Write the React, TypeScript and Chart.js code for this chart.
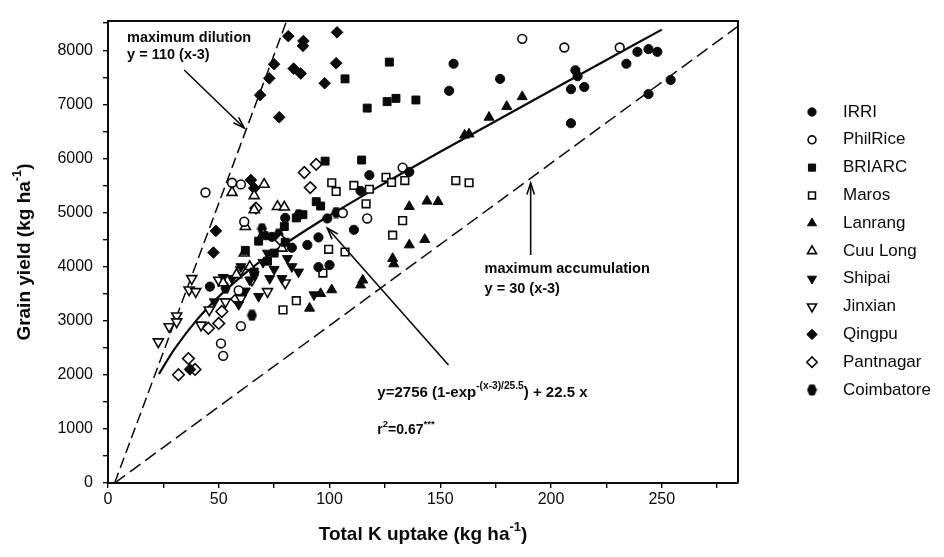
import React, { useEffect, useRef } from "react";
import { Chart, registerables } from "chart.js";
import { drawPoint } from "chart.js/helpers";

Chart.register(...registerables);

type P = [number, number];

const IRRI: P[] = [
  [136, 5750], [156, 7750], [154, 7250], [177, 7470], [211, 7630], [212, 7520], [209, 7280],
  [215, 7320], [209, 6650], [234, 7750], [239, 7970], [244, 8020], [248, 7970], [254, 7450],
  [244, 7190], [118, 5690], [114, 5400], [99, 4890], [111, 4680], [95, 4540], [46, 3630],
  [95, 3990], [100, 4030], [74, 4550], [80, 4900], [83, 4350], [90, 4400],
];
const PHILRICE: P[] = [
  [187, 8210], [206, 8050], [231, 8050], [133, 5830], [44, 5370], [56, 5550], [60, 5520],
  [61.5, 4830], [106, 4990], [117, 4890], [51, 2580], [52, 2350], [60, 2900], [59, 3560],
];
const BRIARC: P[] = [
  [107, 7470], [117, 6930], [126, 7050], [127, 7780], [130, 7110], [139, 7080], [98, 5950],
  [114.5, 5970], [94, 5200], [96, 5120], [68, 4470], [70.5, 4570], [79.6, 4740], [85, 4900],
  [88, 4960], [62, 4300], [75, 4250], [72, 4100], [66, 3900], [80, 4450],
];
const MAROS: P[] = [
  [125.5, 5650], [128, 5555], [134, 5590], [157, 5590], [163, 5550], [133, 4850], [128.5, 4580],
  [101, 5550], [103, 5390], [111, 5500], [118, 5430], [116.5, 5160], [97, 3880], [79, 3200],
  [85, 3370], [99.6, 4320], [107, 4270],
];
const LANRANG: P[] = [
  [187, 7140], [180, 6960], [172, 6760], [161, 6430], [163, 6450], [136, 5110], [144, 5210],
  [149, 5200], [136, 4400], [143, 4500], [91, 3230], [96, 3500], [101, 3570], [114, 3660],
  [115, 3750], [128.5, 4150], [129, 4050],
];
const CUULONG: P[] = [
  [56, 5370], [66, 5310], [66, 5050], [70.5, 5520], [76.5, 5110], [79.6, 5100], [62, 4740],
  [61.5, 4250], [78.5, 4340], [70, 4600], [64, 4000], [58, 3850], [52, 3700],
];
const SHIPAI: P[] = [
  [48, 3350], [52, 3800], [56, 3780], [59, 3300], [62, 3550], [64, 3750], [66, 3850], [70, 4080],
  [73, 3780], [75, 3950], [78.5, 3780], [83, 4000], [86, 3900], [93, 3480], [68, 3450], [60, 4000],
  [72, 4250], [81, 4150],
];
const JINXIAN: P[] = [
  [22.7, 2610], [27.6, 2890], [31, 3090], [31, 2980], [37.8, 3780], [36.6, 3570], [39.6, 3540],
  [50, 3750], [42, 2920], [45.7, 3200], [53, 3350], [60, 3410], [60, 3940], [72, 3540],
  [65, 3750], [80, 3700],
];
const QINGPU: P[] = [
  [81.4, 8260], [88.2, 8170], [88, 8080], [103.4, 8330], [75, 7740], [72.8, 7480], [68.7, 7170],
  [83.8, 7660], [87, 7570], [103, 7760], [97.8, 7390], [77.3, 6760], [64.5, 5600], [66, 5450],
  [48.7, 4660], [47.6, 4260], [37, 2100],
];
const PANTNAGAR: P[] = [
  [94, 5890], [88.6, 5740], [91.3, 5460], [78, 4490], [66.8, 5080], [31.8, 2000], [36.3, 2300],
  [39.3, 2100], [45.3, 2860], [50, 2950], [51.4, 3170], [58, 3400],
];
const COIMBATORE: P[] = [
  [65, 3100], [69.5, 4700], [86, 4960], [77, 4600], [60, 3500], [103, 5000], [53, 3600],
];

// fitted curve y = 2756(1-exp(-(x-3)/25.5)) + 22.5x
const FIT_X = [23, 30, 40, 50, 60, 70, 80, 90, 100, 120, 140, 160, 180, 200, 225, 250];
const FIT_Y = [2015, 2475, 3010, 3445, 3811, 4132, 4421, 4690, 4945, 5428, 5893, 6350, 6804, 7256, 7818, 8381];

// boundary lines
const DILUTION_X = [3, 83];
const DILUTION_Y = [0, 8800];
const ACCUM_X = [3, 284];
const ACCUM_Y = [0, 8430];

const X_TICKS = [0, 50, 100, 150, 200, 250];
const Y_TICKS = [0, 1000, 2000, 3000, 4000, 5000, 6000, 7000, 8000];

const FONT = "'Liberation Sans', Arial, sans-serif";
const INK = "#0a0a0a";

function hexagonCanvas(): HTMLCanvasElement {
  const c = document.createElement("canvas");
  c.width = 11;
  c.height = 12;
  const g = c.getContext("2d")!;
  g.fillStyle = INK;
  g.beginPath();
  g.moveTo(3, 0.5);
  g.lineTo(8, 0.5);
  g.lineTo(10.5, 6);
  g.lineTo(8, 11.5);
  g.lineTo(3, 11.5);
  g.lineTo(0.5, 6);
  g.closePath();
  g.fill();
  return c;
}

function App() {
  const ref = useRef<HTMLCanvasElement | null>(null);

  useEffect(() => {
    const canvas = ref.current;
    if (!canvas) return;
    const hex = hexagonCanvas();

    const series = [
      { label: "IRRI", data: IRRI, style: "circle", r: 4.6, filled: true, rot: 0 },
      { label: "PhilRice", data: PHILRICE, style: "circle", r: 4.4, filled: false, rot: 0 },
      { label: "BRIARC", data: BRIARC, style: "rect", r: 5.6, filled: true, rot: 0 },
      { label: "Maros", data: MAROS, style: "rect", r: 5.4, filled: false, rot: 0 },
      { label: "Lanrang", data: LANRANG, style: "triangle", r: 5.8, filled: true, rot: 0 },
      { label: "Cuu Long", data: CUULONG, style: "triangle", r: 5.8, filled: false, rot: 0 },
      { label: "Shipai", data: SHIPAI, style: "triangle", r: 5.8, filled: true, rot: 180 },
      { label: "Jinxian", data: JINXIAN, style: "triangle", r: 5.8, filled: false, rot: 180 },
      { label: "Qingpu", data: QINGPU, style: "rectRot", r: 5.8, filled: true, rot: 0 },
      { label: "Pantnagar", data: PANTNAGAR, style: "rectRot", r: 5.8, filled: false, rot: 0 },
      { label: "Coimbatore", data: COIMBATORE, style: "hex", r: 5, filled: true, rot: 0 },
    ];

    const pointSets = series.map((s) => ({
      type: "scatter" as const,
      label: s.label,
      data: s.data.map(([x, y]) => ({ x, y })),
      pointStyle: s.style === "hex" ? (hex as any) : s.style,
      pointRadius: s.r,
      pointRotation: s.rot,
      pointBackgroundColor: s.filled ? INK : "#ffffff",
      pointBorderColor: INK,
      pointBorderWidth: s.filled ? 1 : 1.6,
      showLine: false,
    }));

    const lineSets = [
      {
        type: "line" as const,
        label: "fit",
        data: FIT_X.map((x, i) => ({ x, y: FIT_Y[i] })),
        borderColor: INK,
        borderWidth: 2.2,
        pointRadius: 0,
        tension: 0.3,
        fill: false,
      },
      {
        type: "line" as const,
        label: "dilution",
        data: DILUTION_X.map((x, i) => ({ x, y: DILUTION_Y[i] })),
        borderColor: INK,
        borderWidth: 1.5,
        borderDash: [11, 5],
        pointRadius: 0,
        fill: false,
      },
      {
        type: "line" as const,
        label: "accum",
        data: ACCUM_X.map((x, i) => ({ x, y: ACCUM_Y[i] })),
        borderColor: INK,
        borderWidth: 1.5,
        borderDash: [13, 6],
        pointRadius: 0,
        fill: false,
      },
    ];

    const drawRich = (
      ctx: CanvasRenderingContext2D,
      parts: { t: string; sup?: boolean }[],
      x: number,
      y: number,
      size: number,
      weight: string
    ) => {
      let cx = x;
      for (const p of parts) {
        const fs = p.sup ? size * 0.68 : size;
        ctx.font = `${weight} ${fs}px ${FONT}`;
        ctx.fillText(p.t, cx, p.sup ? y - size * 0.42 : y);
        cx += ctx.measureText(p.t).width;
      }
      return cx - x;
    };

    const measureRich = (
      ctx: CanvasRenderingContext2D,
      parts: { t: string; sup?: boolean }[],
      size: number,
      weight: string
    ) => {
      let w = 0;
      for (const p of parts) {
        const fs = p.sup ? size * 0.68 : size;
        ctx.font = `${weight} ${fs}px ${FONT}`;
        w += ctx.measureText(p.t).width;
      }
      return w;
    };

    const arrow = (
      ctx: CanvasRenderingContext2D,
      x1: number,
      y1: number,
      x2: number,
      y2: number
    ) => {
      ctx.beginPath();
      ctx.moveTo(x1, y1);
      ctx.lineTo(x2, y2);
      ctx.stroke();
      const a = Math.atan2(y2 - y1, x2 - x1);
      const L = 12;
      const s = 0.32;
      ctx.beginPath();
      ctx.moveTo(x2 - L * Math.cos(a - s), y2 - L * Math.sin(a - s));
      ctx.lineTo(x2, y2);
      ctx.lineTo(x2 - L * Math.cos(a + s), y2 - L * Math.sin(a + s));
      ctx.stroke();
    };

    const overlay = {
      id: "overlay",
      afterDraw(chart: any) {
        const { ctx, chartArea } = chart;
        const xs = chart.scales.x;
        const ys = chart.scales.y;
        const px = (v: number) => xs.getPixelForValue(v);
        const py = (v: number) => ys.getPixelForValue(v);
        ctx.save();
        ctx.strokeStyle = INK;
        ctx.fillStyle = INK;

        // frame top + right
        ctx.lineWidth = 2;
        ctx.beginPath();
        ctx.moveTo(chartArea.left, chartArea.top);
        ctx.lineTo(chartArea.right, chartArea.top);
        ctx.lineTo(chartArea.right, chartArea.bottom);
        ctx.stroke();

        // annotations
        ctx.textBaseline = "middle";
        ctx.textAlign = "left";
        ctx.font = `bold 14.5px ${FONT}`;
        ctx.fillText("maximum dilution", px(8.6), py(8225));
        ctx.fillText("y = 110 (x-3)", px(8.6), py(7911));
        ctx.fillText("maximum accumulation", px(170), py(3956));
        ctx.fillText("y = 30 (x-3)", px(170), py(3586));

        drawRich(
          ctx,
          [{ t: "y=2756 (1-exp" }, { t: "-(x-3)/25.5", sup: true }, { t: ") + 22.5 x" }],
          px(121.6),
          py(1664),
          15,
          "bold"
        );
        drawRich(
          ctx,
          [{ t: "r" }, { t: "2", sup: true }, { t: "=0.67" }, { t: "***", sup: true }],
          px(121.6),
          py(980),
          14,
          "bold"
        );

        ctx.lineWidth = 1.6;
        arrow(ctx, px(34.4), py(7634), px(61.5), py(6562));
        arrow(ctx, px(190.8), py(4214), px(190.8), py(5545));
        arrow(ctx, px(153.7), py(2181), px(99), py(4713));

        // axis titles
        const xt = [{ t: "Total K uptake (kg ha" }, { t: "-1", sup: true }, { t: ")" }];
        const wx = measureRich(ctx, xt, 19, "bold");
        drawRich(ctx, xt, (chartArea.left + chartArea.right) / 2 - wx / 2, 535, 19, "bold");

        const yt = [{ t: "Grain yield (kg ha" }, { t: "-1", sup: true }, { t: ")" }];
        const wy = measureRich(ctx, yt, 19, "bold");
        ctx.save();
        ctx.translate(25, (chartArea.top + chartArea.bottom) / 2);
        ctx.rotate(-Math.PI / 2);
        drawRich(ctx, yt, -wy / 2, 0, 19, "bold");
        ctx.restore();

        // legend
        const lx = 812;
        const tx = 843;
        const y0 = 112;
        const dy = 27.8;
        series.forEach((s, i) => {
          const y = y0 + i * dy;
          ctx.fillStyle = s.filled ? INK : "#ffffff";
          ctx.strokeStyle = INK;
          ctx.lineWidth = s.filled ? 1 : 1.6;
          drawPoint(
            ctx,
            {
              pointStyle: s.style === "hex" ? hex : s.style,
              radius: s.r * 0.9,
              rotation: s.rot,
              borderWidth: s.filled ? 1 : 1.6,
            } as any,
            lx,
            y
          );
          ctx.fillStyle = INK;
          ctx.font = `17px ${FONT}`;
          ctx.textBaseline = "middle";
          ctx.fillText(s.label, tx, y);
        });

        ctx.restore();
      },
    };

    const chart = new Chart(canvas, {
      type: "scatter",
      data: { datasets: [...pointSets, ...lineSets] as any },
      options: {
        animation: false,
        responsive: false,
        maintainAspectRatio: false,
        layout: { padding: { left: 0, right: 944 - 738, top: 21, bottom: 0 } },
        plugins: { legend: { display: false }, tooltip: { enabled: false }, title: { display: false } },
        scales: {
          x: {
            type: "linear",
            min: 0,
            max: 284.4,
            afterFit: (s: any) => {
              s.height = 557 - 483;
            },
            afterBuildTicks: (axis: any) => {
              const out: any[] = [];
              for (let v = 0; v <= 284; v += 25) out.push({ value: v });
              axis.ticks = out;
            },
            ticks: {
              autoSkip: false,
              maxRotation: 0,
              padding: 2,
              color: INK,
              font: { family: FONT, size: 16 },
              callback: (v: any) => (X_TICKS.includes(Number(v)) ? String(v) : ""),
            },
            grid: { display: true, drawOnChartArea: false, tickLength: 5, color: INK, lineWidth: 1.4 },
            border: { display: true, color: INK, width: 2 },
          },
          y: {
            type: "linear",
            min: 0,
            max: 8540,
            afterFit: (s: any) => {
              s.width = 108;
            },
            afterBuildTicks: (axis: any) => {
              const out: any[] = [];
              for (let v = 0; v <= 8500; v += 500) out.push({ value: v });
              axis.ticks = out;
            },
            ticks: {
              autoSkip: false,
              padding: 10,
              color: INK,
              font: { family: FONT, size: 16 },
              callback: (v: any) => (Y_TICKS.includes(Number(v)) ? String(v) : ""),
            },
            grid: { display: true, drawOnChartArea: false, tickLength: 5, color: INK, lineWidth: 1.4 },
            border: { display: true, color: INK, width: 2 },
          },
        },
      },
      plugins: [overlay],
    });

    return () => chart.destroy();
  }, []);

  return (
    <div style={{ position: "fixed", left: 0, top: 0, width: 944, height: 557, background: "#fff" }}>
      <canvas ref={ref} width={944} height={557} style={{ width: 944, height: 557, display: "block" }} />
    </div>
  );
}

export default App;
